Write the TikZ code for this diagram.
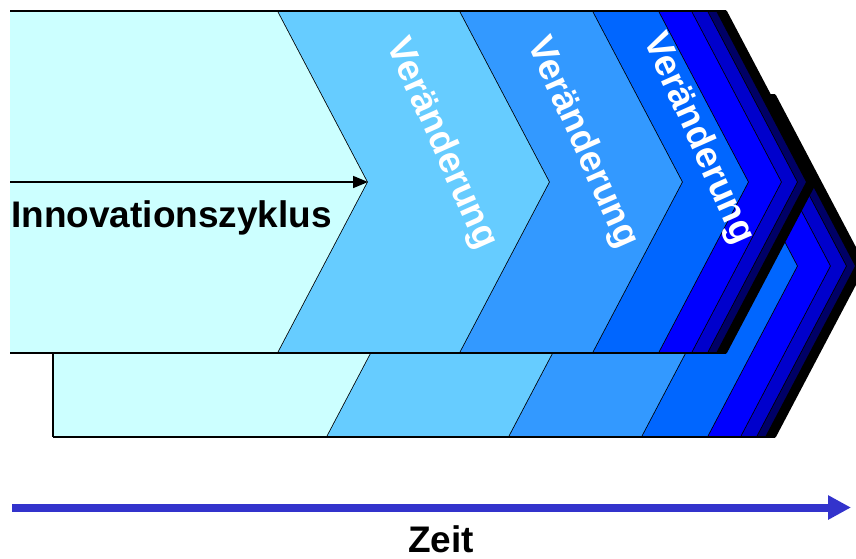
\documentclass[tikz,border=0pt]{standalone}
\usepackage{fontspec}
\setmainfont{Liberation Sans}
\usetikzlibrary{arrows.meta}

\definecolor{bandA}{HTML}{CCFFFF}
\definecolor{bandB}{HTML}{66CCFF}
\definecolor{bandC}{HTML}{3399FF}
\definecolor{bandD}{HTML}{0066FF}
\definecolor{bandE}{HTML}{0000FF}
\definecolor{bandF}{HTML}{0000CC}
\definecolor{bandG}{HTML}{000066}
\definecolor{bandH}{HTML}{000000}
\definecolor{timeblue}{HTML}{3333CC}

% one chevron band: #1 colour, #2 left x, #3 right x, #4 top y, #5 bottom y
\newcommand\chevband[5]{%
  \fill[#1] (#2,#4) -- (#3,#4) -- ({#3+90},{(#4+#5)/2}) -- (#3,#5)
            -- (#2,#5) -- ({#2+90},{(#4+#5)/2}) -- cycle;
  \draw[edge] (#3,#4) -- ({#3+90},{(#4+#5)/2}) -- (#3,#5);
}
% the first band of a layer, straight on its left side
\newcommand\chevfirst[5]{%
  \fill[#1] (#2,#4) -- (#3,#4) -- ({#3+90},{(#4+#5)/2}) -- (#3,#5)
            -- (#2,#5) -- cycle;
  \draw[edge] (#3,#4) -- ({#3+90},{(#4+#5)/2}) -- (#3,#5);
}

\tikzset{
  edge/.style={draw=black, line width=1.6pt, line join=miter},
  rim/.style={draw=black, line width=2.2pt},
  title/.style={font=\fontsize{37}{40}\selectfont\bfseries, text=black, inner sep=0pt},
  change/.style={font=\fontsize{37}{40}\selectfont\bfseries, text=white, inner sep=0pt, rotate=-66},
  cycle arrow/.style={draw=black, line width=1.6pt, -{Triangle[length=15pt,width=12pt]}},
  time arrow/.style={draw=timeblue, line width=8pt, -{Triangle[length=23pt,width=23pt]}},
}

\begin{document}
\begin{tikzpicture}[x=1pt, y=-1pt]
\useasboundingbox (0,0) rectangle (856,558);

% rear layer
\chevfirst{bandA}{53}{327}{95}{437}
\chevband{bandB}{327}{509}{95}{437}
\chevband{bandC}{509}{642}{95}{437}
\chevband{bandD}{642}{708}{95}{437}
\chevband{bandE}{708}{741}{95}{437}
\chevband{bandF}{741}{757}{95}{437}
\chevband{bandG}{757}{766}{95}{437}
\chevband{bandH}{766}{775}{95}{437}
\draw[rim] (53,95) -- (775,95);
\draw[rim] (53,437) -- (775,437);
\draw[edge] (53,95) -- (53,437);

% front layer
\chevfirst{bandA}{10}{278}{11}{353}
\chevband{bandB}{278}{460}{11}{353}
\chevband{bandC}{460}{593}{11}{353}
\chevband{bandD}{593}{659}{11}{353}
\chevband{bandE}{659}{692}{11}{353}
\chevband{bandF}{692}{708}{11}{353}
\chevband{bandG}{708}{717}{11}{353}
\chevband{bandH}{717}{726}{11}{353}
\draw[rim] (10,11) -- (726,11);
\draw[rim] (10,353) -- (726,353);

% innovation cycle arrow and its label
\coordinate (cycstart) at (10,182);
\coordinate (cycend) at (368,182);
\draw[cycle arrow] (cycstart) -- (cycend);
\node[title, anchor=base west] (inno) at (11,227) {Innovationszyklus};

% change labels
\node[change] (chg1) at (441,144) {Veränderung};
\node[change] (chg2) at (582,143) {Veränderung};
\node[change] (chg3) at (698,139) {Veränderung};

% time axis
\coordinate (tstart) at (12,507.5);
\coordinate (tend) at (851,507.5);
\draw[time arrow] (tstart) -- (tend);
\node[title, anchor=base] (zeit) at (441,552) {Zeit};
\end{tikzpicture}
\end{document}
